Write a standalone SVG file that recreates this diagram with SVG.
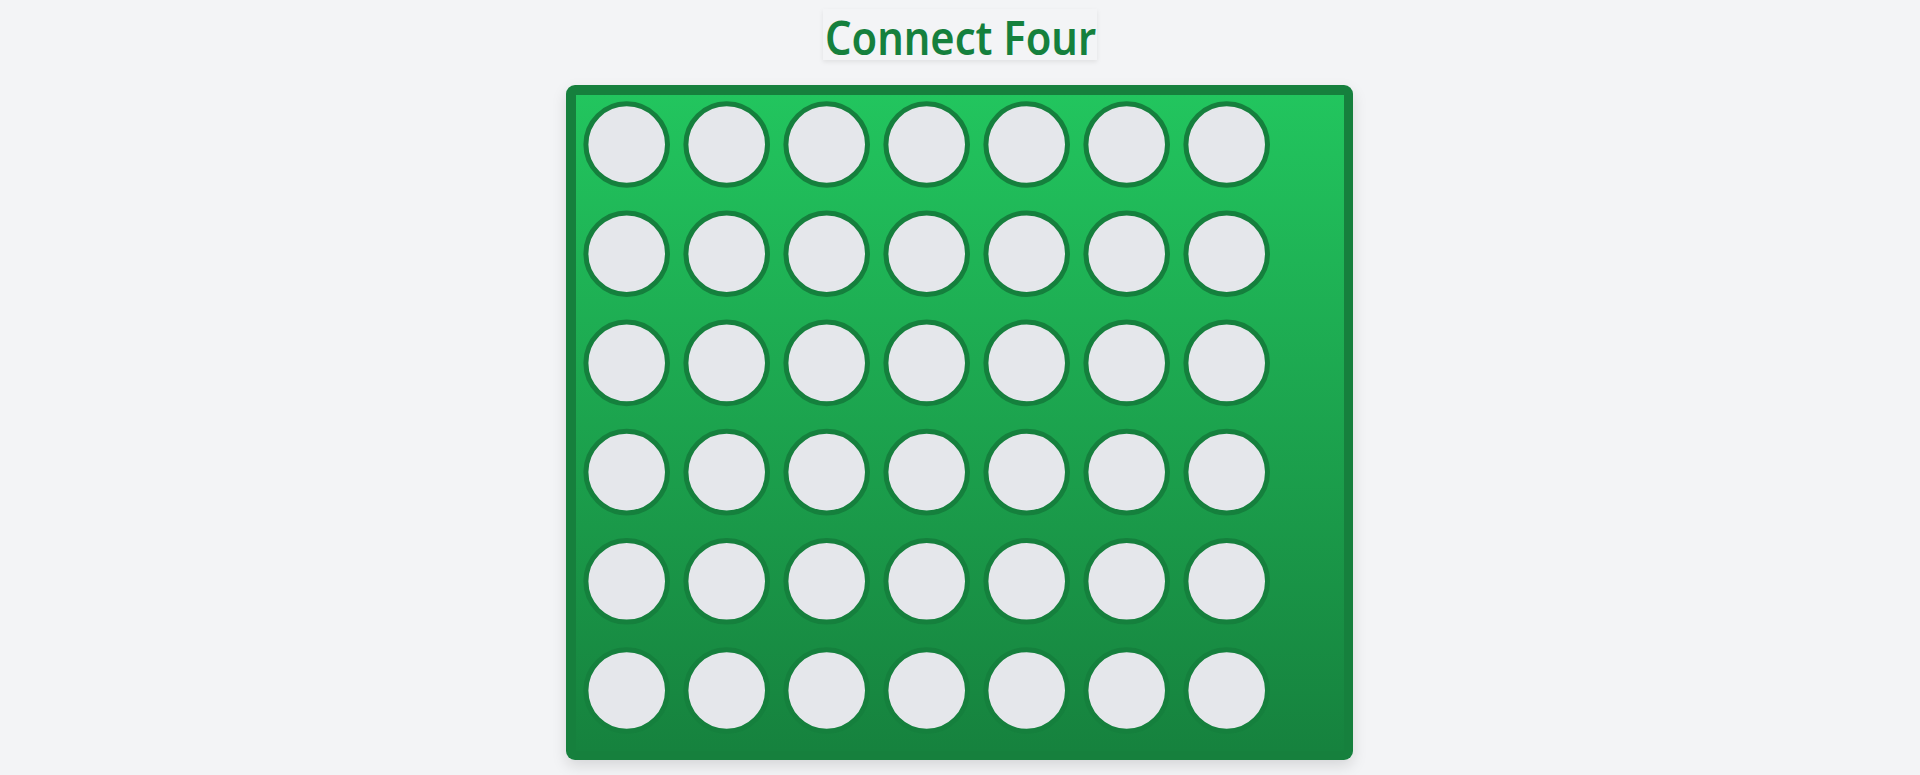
<svg xmlns="http://www.w3.org/2000/svg" width="1920" height="775" viewBox="0 0 1920 775">
  <defs>
    <linearGradient id="boardGrad" x1="0" y1="0" x2="0" y2="1">
      <stop offset="0" stop-color="#22c55e"/>
      <stop offset="1" stop-color="#16823e"/>
    </linearGradient>
    <filter id="boardShadow" x="-10%" y="-10%" width="120%" height="125%">
      <feDropShadow dx="0" dy="6" stdDeviation="7" flood-color="#000000" flood-opacity="0.12"/>
    </filter>
    <filter id="titleShadow" x="-10%" y="-30%" width="120%" height="160%">
      <feDropShadow dx="0" dy="2" stdDeviation="2" flood-color="#000000" flood-opacity="0.08"/>
    </filter>
    <style>
      .slot { fill: #e5e7eb; stroke: #15803d; stroke-width: 5; }
      .title { font-family: "Noto Sans", "Open Sans", "Liberation Sans", sans-serif; font-size: 46px; font-weight: 600; fill: #15803d; }
    </style>
  </defs>
  <rect width="1920" height="775" fill="#f3f4f6"/>

  <g id="title">
    <rect x="823" y="9" width="274" height="51" fill="#f3f4f6" filter="url(#titleShadow)"/>
    <text class="title" x="825" y="55" textLength="271" lengthAdjust="spacingAndGlyphs">Connect Four</text>
  </g>

  <g id="board">
    <rect x="566" y="85" width="787" height="675" rx="9" fill="#15803d" filter="url(#boardShadow)"/>
    <rect x="576" y="95" width="768" height="656" fill="url(#boardGrad)"/>
  </g>

  <g id="slots">
    <g id="row1">
      <circle class="slot" cx="626.7" cy="144.5" r="40.8"/>
      <circle class="slot" cx="726.7" cy="144.5" r="40.8"/>
      <circle class="slot" cx="826.7" cy="144.5" r="40.8"/>
      <circle class="slot" cx="926.7" cy="144.5" r="40.8"/>
      <circle class="slot" cx="1026.7" cy="144.5" r="40.8"/>
      <circle class="slot" cx="1126.7" cy="144.5" r="40.8"/>
      <circle class="slot" cx="1226.7" cy="144.5" r="40.8"/>
    </g>
    <g id="row2">
      <circle class="slot" cx="626.7" cy="253.7" r="40.8"/>
      <circle class="slot" cx="726.7" cy="253.7" r="40.8"/>
      <circle class="slot" cx="826.7" cy="253.7" r="40.8"/>
      <circle class="slot" cx="926.7" cy="253.7" r="40.8"/>
      <circle class="slot" cx="1026.7" cy="253.7" r="40.8"/>
      <circle class="slot" cx="1126.7" cy="253.7" r="40.8"/>
      <circle class="slot" cx="1226.7" cy="253.7" r="40.8"/>
    </g>
    <g id="row3">
      <circle class="slot" cx="626.7" cy="362.9" r="40.8"/>
      <circle class="slot" cx="726.7" cy="362.9" r="40.8"/>
      <circle class="slot" cx="826.7" cy="362.9" r="40.8"/>
      <circle class="slot" cx="926.7" cy="362.9" r="40.8"/>
      <circle class="slot" cx="1026.7" cy="362.9" r="40.8"/>
      <circle class="slot" cx="1126.7" cy="362.9" r="40.8"/>
      <circle class="slot" cx="1226.7" cy="362.9" r="40.8"/>
    </g>
    <g id="row4">
      <circle class="slot" cx="626.7" cy="472.1" r="40.8"/>
      <circle class="slot" cx="726.7" cy="472.1" r="40.8"/>
      <circle class="slot" cx="826.7" cy="472.1" r="40.8"/>
      <circle class="slot" cx="926.7" cy="472.1" r="40.8"/>
      <circle class="slot" cx="1026.7" cy="472.1" r="40.8"/>
      <circle class="slot" cx="1126.7" cy="472.1" r="40.8"/>
      <circle class="slot" cx="1226.7" cy="472.1" r="40.8"/>
    </g>
    <g id="row5">
      <circle class="slot" cx="626.7" cy="581.3" r="40.8"/>
      <circle class="slot" cx="726.7" cy="581.3" r="40.8"/>
      <circle class="slot" cx="826.7" cy="581.3" r="40.8"/>
      <circle class="slot" cx="926.7" cy="581.3" r="40.8"/>
      <circle class="slot" cx="1026.7" cy="581.3" r="40.8"/>
      <circle class="slot" cx="1126.7" cy="581.3" r="40.8"/>
      <circle class="slot" cx="1226.7" cy="581.3" r="40.8"/>
    </g>
    <g id="row6">
      <circle class="slot" cx="626.7" cy="690.5" r="40.8"/>
      <circle class="slot" cx="726.7" cy="690.5" r="40.8"/>
      <circle class="slot" cx="826.7" cy="690.5" r="40.8"/>
      <circle class="slot" cx="926.7" cy="690.5" r="40.8"/>
      <circle class="slot" cx="1026.7" cy="690.5" r="40.8"/>
      <circle class="slot" cx="1126.7" cy="690.5" r="40.8"/>
      <circle class="slot" cx="1226.7" cy="690.5" r="40.8"/>
    </g>
  </g>
</svg>
